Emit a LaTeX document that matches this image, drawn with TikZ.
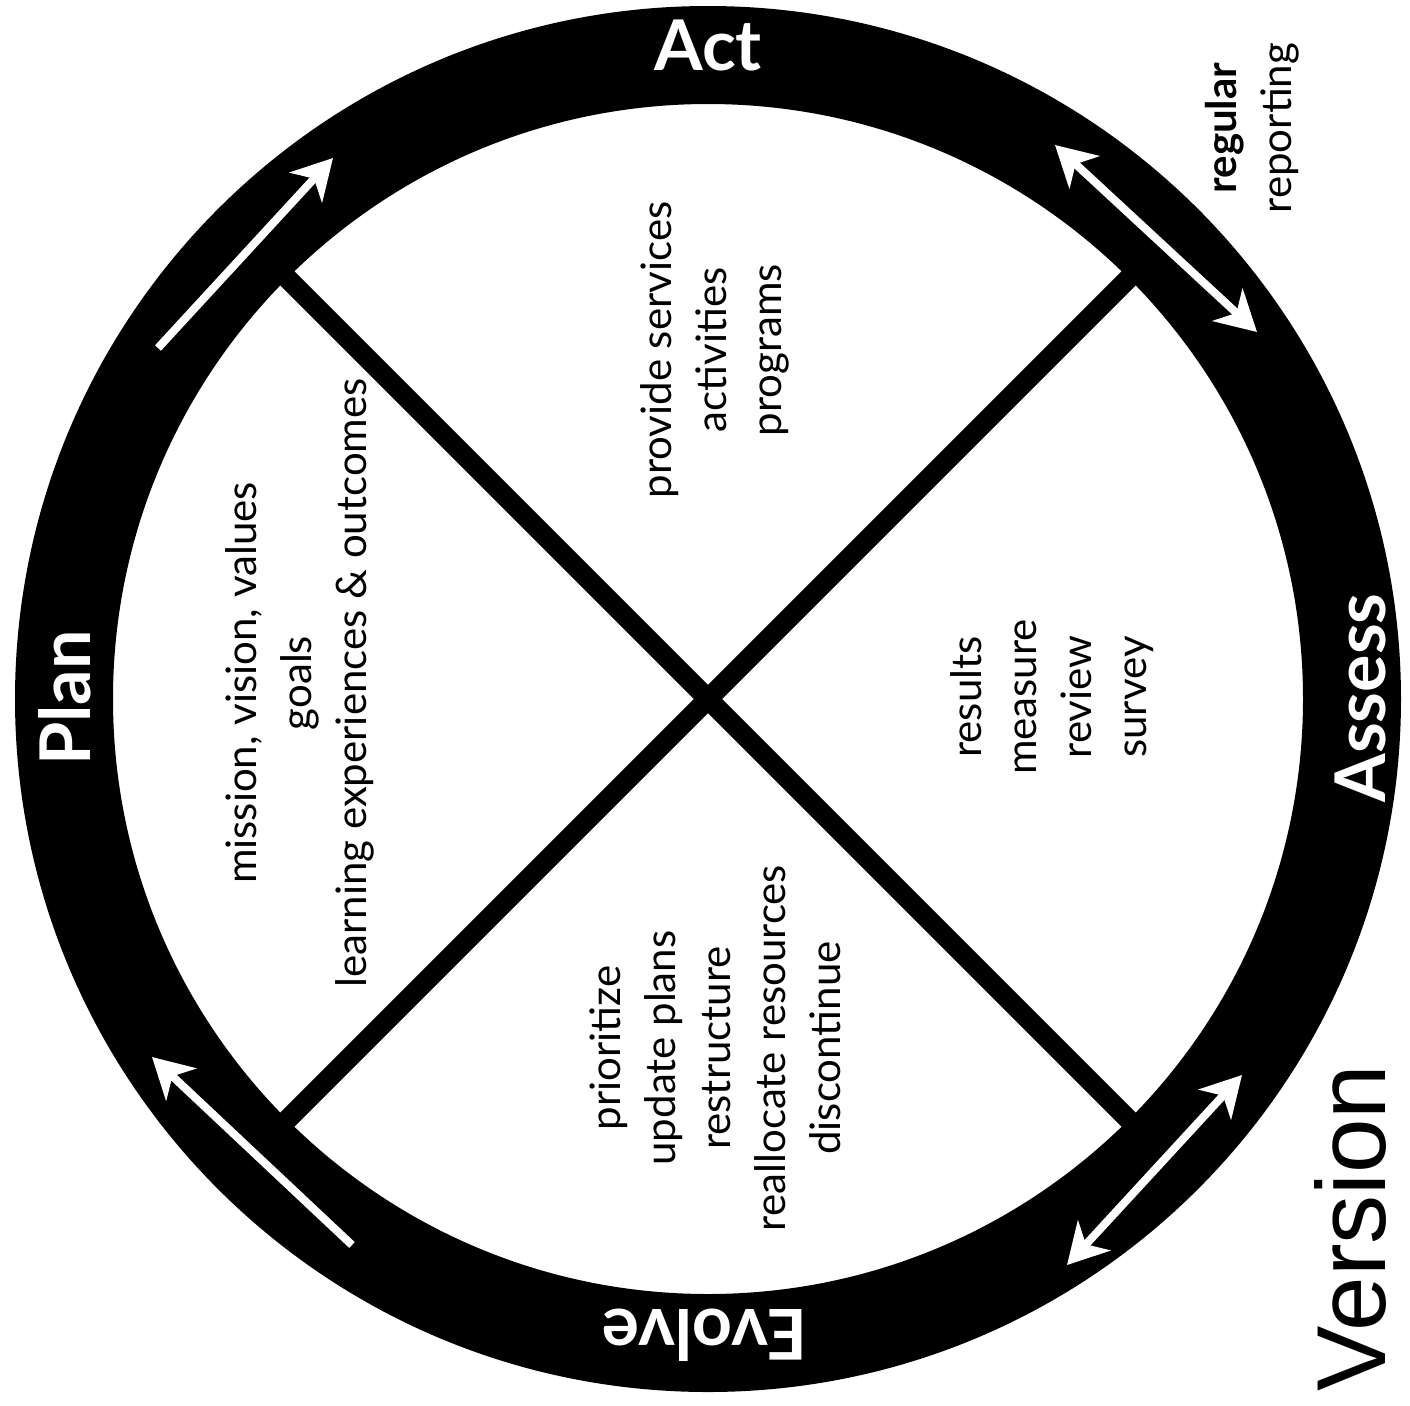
\documentclass[tikz,border=0pt]{standalone}
\usepackage{fontspec}
\setmainfont{Lato}
\newfontfamily\verfont{Liberation Sans}
\usetikzlibrary{arrows.meta}
\begin{document}
\begin{tikzpicture}[x=0.5pt,y=-0.5pt,
  ringlabel/.style={text=white,font=\bfseries\fontsize{35}{40}\selectfont,inner sep=0pt},
  body/.style={align=center,font=\fontsize{21}{27.5}\selectfont,rotate=90,inner sep=0pt},
  xline/.style={line width=10pt},
  ringarrow/.style={white,line width=4pt,-{Stealth[length=20pt,width=22pt,inset=6pt]}},
  ringarrows/.style={white,line width=4pt,{Stealth[length=20pt,width=22pt,inset=6pt]}-{Stealth[length=20pt,width=22pt,inset=6pt]}},
]
\useasboundingbox (0,0) rectangle (1410,1405);
\coordinate (c) at (708,699);
% cross
\coordinate (tl) at (270,261);
\coordinate (br) at (1146,1137);
\coordinate (bl) at (270,1137);
\coordinate (tr) at (1146,261);
\draw[xline] (tl) -- (br);
\draw[xline] (bl) -- (tr);
% ring
\fill[black,even odd rule] (c) circle[radius=346.5pt] (c) circle[radius=297.5pt];
% arrows in ring
\coordinate (a1s) at (158,348);
\coordinate (a1e) at (333,158);
\coordinate (a2s) at (1055,145);
\coordinate (a2e) at (1257,332);
\coordinate (a3s) at (1067,1265);
\coordinate (a3e) at (1242,1075);
\coordinate (a4s) at (352,1245);
\coordinate (a4e) at (152,1057);
\draw[ringarrow] (a1s) -- (a1e);
\draw[ringarrows] (a2s) -- (a2e);
\draw[ringarrows] (a3s) -- (a3e);
\draw[ringarrow] (a4s) -- (a4e);
% ring labels
\node[ringlabel] (act) at (708,45) {Act};
\node[ringlabel,rotate=90] (assess) at (1360,698) {Assess};
\node[ringlabel,rotate=90] (plan) at (65,698) {Plan};
\node[ringlabel,rotate=180] (evolve) at (705,1335) {Evolve};
% quadrant texts
\node[body] (plantxt) at (300,683) {mission, vision, values\\goals\\learning experiences \& outcomes};
\node[body] (acttxt) at (715,350) {provide services\\activities\\programs};
\node[body] (assesstxt) at (1052,697) {results\\measure\\review\\survey};
\node[body] (evolvetxt) at (715,1048) {prioritize\\update plans\\restructure\\reallocate resources\\discontinue};
% side texts
\node[align=center,rotate=90,inner sep=0pt,font=\fontsize{21}{27.5}\selectfont] (report) at (1252,128) {\textbf{regular}\\reporting};
\node[rotate=90,inner sep=0pt,font=\verfont\fontsize{49}{50}\selectfont] (version) at (1350,1228) {Version};
\end{tikzpicture}
\end{document}
